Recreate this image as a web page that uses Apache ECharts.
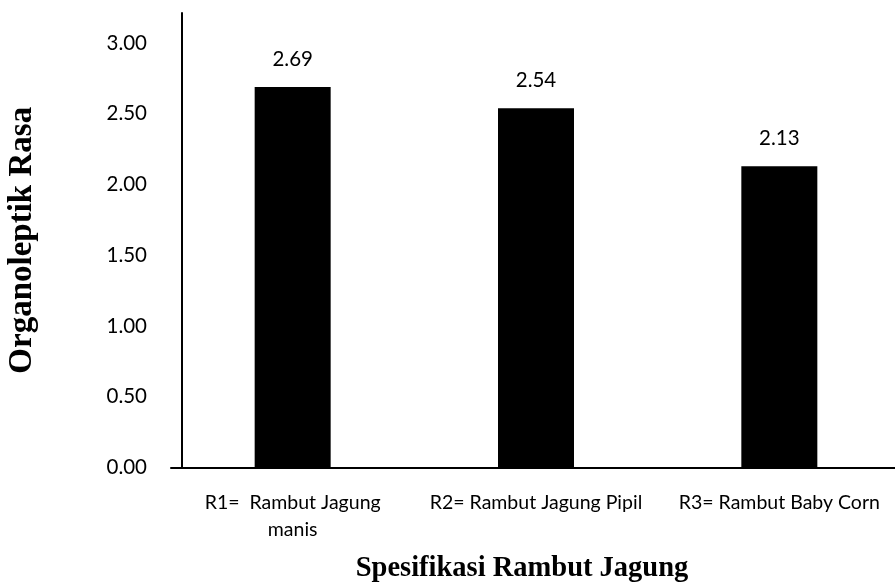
<!DOCTYPE html>
<html>
<head>
<meta charset="utf-8">
<script src="https://cdn.jsdelivr.net/npm/echarts@6/dist/echarts.min.js"></script>
<style>
  html, body { margin: 0; padding: 0; background: #fff; }
  #chart { width: 895px; height: 584px; }
</style>
</head>
<body>
<div id="chart"></div>
<script>
// Organoleptic taste scores per corn-silk type
const categories = ['R1=  Rambut Jagung\nmanis', 'R2= Rambut Jagung Pipil', 'R3= Rambut Baby Corn'];
const tasteScores = [2.69, 2.54, 2.13];
const yTickStep = 0.5;
const yMax = 3.213;

const labelFont = 'Lato, "Open Sans", sans-serif';
const titleFont = '"Liberation Serif", "DejaVu Serif", serif';

const chart = echarts.init(document.getElementById('chart'));
chart.setOption({
  animation: false,
  backgroundColor: '#ffffff',
  grid: {
    left: 171, right: -6, top: 13, bottom: 116.5,
    containLabel: false, outerBoundsMode: 'none'
  },
  xAxis: {
    type: 'category',
    data: categories,
    axisLine: { show: true, lineStyle: { color: '#000', width: 2 } },
    axisTick: { show: false },
    axisLabel: {
      color: '#000', fontFamily: labelFont, fontSize: 19.5, margin: 22,
      lineHeight: 27, interval: 0
    },
    name: 'Spesifikasi Rambut Jagung',
    nameLocation: 'middle',
    nameGap: 87,
    nameTextStyle: {
      color: '#000', fontFamily: titleFont, fontWeight: 'bold', fontSize: 28.5,
      padding: [0, 28, 0, 0]
    }
  },
  yAxis: {
    type: 'value',
    min: 0,
    max: yMax,
    interval: yTickStep,
    offset: -11,
    axisLine: { show: true, lineStyle: { color: '#000', width: 2 } },
    axisTick: { show: false },
    splitLine: { show: false },
    axisLabel: {
      color: '#000', fontFamily: labelFont, fontSize: 20.5, margin: 35,
      showMaxLabel: false,
      formatter: v => v.toFixed(2)
    },
    name: 'Organoleptik Rasa',
    nameLocation: 'middle',
    nameGap: 143,
    nameRotate: 90,
    nameTextStyle: { color: '#000', fontFamily: titleFont, fontWeight: 'bold', fontSize: 33 }
  },
  series: [{
    type: 'bar',
    data: tasteScores,
    barWidth: 76,
    itemStyle: { color: '#000' },
    label: {
      show: true,
      position: 'top',
      distance: 17,
      color: '#000',
      fontFamily: labelFont,
      fontSize: 20.5,
      formatter: p => p.value.toFixed(2)
    }
  }]
});
</script>
</body>
</html>
